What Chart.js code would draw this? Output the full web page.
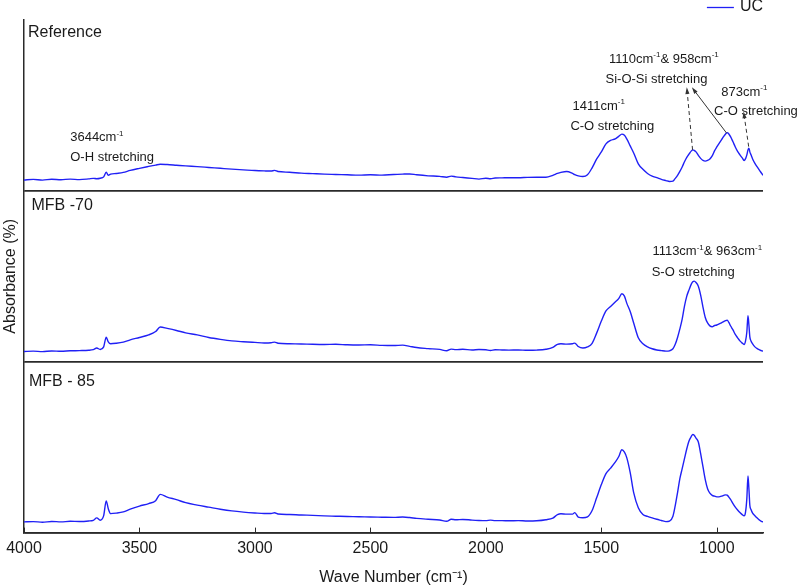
<!DOCTYPE html>
<html>
<head>
<meta charset="utf-8">
<title>FTIR spectra</title>
<script src="https://cdn.jsdelivr.net/npm/chart.js@4.4.1/dist/chart.umd.min.js"></script>
<style>
  html, body { margin: 0; padding: 0; background: #fff; }
  #wrap { width: 797px; height: 587px; position: relative; }
</style>
</head>
<body>
<div id="wrap"><canvas id="ftir"></canvas></div>
<script>
const FONT = '"Liberation Sans", Arial, sans-serif';
const TEXT = '#1a1a1a';
const AXIS = '#2a2a2a';
const LINE_BLUE = '#2020f5';

// wave number grid (cm-1), shared by the three spectra
const wavenumbers = [
  4000, 3960, 3920, 3880, 3840, 3800, 3760, 3720, 3700, 3685,
  3670, 3655, 3644, 3635, 3625, 3600, 3570, 3540, 3500, 3460,
  3430, 3410, 3380, 3340, 3300, 3250, 3200, 3150, 3100, 3050,
  3000, 2960, 2930, 2915, 2900, 2850, 2800, 2750, 2700, 2650,
  2600, 2550, 2500, 2450, 2400, 2360, 2330, 2300, 2250, 2200,
  2170, 2150, 2130, 2100, 2060, 2030, 2000, 1980, 1960, 1930,
  1900, 1860, 1820, 1780, 1740, 1710, 1690, 1675, 1650, 1625,
  1615, 1600, 1580, 1560, 1540, 1520, 1500, 1480, 1460, 1440,
  1425, 1411, 1400, 1390, 1375, 1360, 1340, 1320, 1300, 1280,
  1260, 1240, 1220, 1205, 1190, 1180, 1170, 1160, 1150, 1140,
  1130, 1120, 1110, 1104, 1098, 1090, 1080, 1070, 1060, 1050,
  1040, 1030, 1020, 1010, 1000, 990, 980, 970, 962, 955,
  948, 940, 930, 920, 910, 900, 890, 882, 876, 870,
  865, 861, 857, 852, 845, 835, 825, 815, 805, 800
];

// absorbance, each panel scaled 0..1
const referenceAbs = [
  0.064, 0.067, 0.063, 0.068, 0.065, 0.069, 0.066, 0.070, 0.073, 0.071,
  0.074, 0.082, 0.109, 0.091, 0.098, 0.102, 0.108, 0.120, 0.132, 0.143,
  0.151, 0.156, 0.154, 0.150, 0.146, 0.142, 0.137, 0.132, 0.127, 0.123,
  0.119, 0.117, 0.116, 0.120, 0.113, 0.109, 0.104, 0.101, 0.098, 0.096,
  0.094, 0.092, 0.094, 0.092, 0.096, 0.098, 0.099, 0.094, 0.088, 0.085,
  0.080, 0.086, 0.082, 0.078, 0.073, 0.069, 0.074, 0.071, 0.075, 0.076,
  0.077, 0.077, 0.079, 0.080, 0.080, 0.091, 0.102, 0.108, 0.113, 0.102,
  0.095, 0.088, 0.084, 0.094, 0.135, 0.187, 0.228, 0.275, 0.295, 0.304,
  0.319, 0.332, 0.325, 0.304, 0.263, 0.222, 0.158, 0.126, 0.102, 0.086,
  0.077, 0.067, 0.060, 0.055, 0.057, 0.073, 0.091, 0.114, 0.140, 0.170,
  0.196, 0.216, 0.234, 0.240, 0.237, 0.228, 0.208, 0.190, 0.178, 0.174,
  0.178, 0.187, 0.205, 0.234, 0.257, 0.278, 0.298, 0.319, 0.333, 0.341,
  0.333, 0.316, 0.287, 0.257, 0.231, 0.211, 0.193, 0.178, 0.187, 0.211,
  0.240, 0.250, 0.228, 0.211, 0.187, 0.161, 0.140, 0.120, 0.101, 0.091
];

const mfb70Abs = [
  0.060, 0.062, 0.059, 0.063, 0.061, 0.064, 0.065, 0.067, 0.071, 0.080,
  0.072, 0.087, 0.144, 0.116, 0.105, 0.108, 0.115, 0.128, 0.142, 0.157,
  0.177, 0.203, 0.195, 0.183, 0.169, 0.157, 0.142, 0.131, 0.122, 0.117,
  0.113, 0.110, 0.111, 0.115, 0.108, 0.105, 0.104, 0.102, 0.101, 0.102,
  0.099, 0.098, 0.099, 0.096, 0.095, 0.097, 0.090, 0.083, 0.077, 0.072,
  0.064, 0.074, 0.071, 0.073, 0.069, 0.072, 0.070, 0.066, 0.070, 0.069,
  0.068, 0.069, 0.067, 0.068, 0.073, 0.084, 0.102, 0.105, 0.103, 0.105,
  0.109, 0.089, 0.080, 0.087, 0.108, 0.169, 0.238, 0.297, 0.323, 0.349,
  0.369, 0.398, 0.384, 0.343, 0.294, 0.227, 0.140, 0.105, 0.087, 0.076,
  0.069, 0.065, 0.062, 0.064, 0.076, 0.102, 0.142, 0.192, 0.250, 0.326,
  0.384, 0.422, 0.456, 0.468, 0.472, 0.464, 0.442, 0.390, 0.320, 0.259,
  0.227, 0.210, 0.205, 0.212, 0.215, 0.221, 0.228, 0.235, 0.241, 0.243,
  0.230, 0.209, 0.186, 0.160, 0.140, 0.122, 0.109, 0.101, 0.119, 0.174,
  0.269, 0.215, 0.145, 0.122, 0.105, 0.087, 0.077, 0.070, 0.064, 0.062
];

const mfb85Abs = [
  0.063, 0.064, 0.061, 0.065, 0.063, 0.066, 0.065, 0.068, 0.072, 0.086,
  0.072, 0.099, 0.185, 0.140, 0.111, 0.114, 0.121, 0.137, 0.155, 0.170,
  0.187, 0.224, 0.208, 0.193, 0.175, 0.161, 0.149, 0.137, 0.127, 0.120,
  0.115, 0.112, 0.112, 0.116, 0.109, 0.106, 0.103, 0.101, 0.098, 0.096,
  0.094, 0.093, 0.091, 0.090, 0.089, 0.091, 0.088, 0.083, 0.078, 0.074,
  0.066, 0.078, 0.075, 0.077, 0.073, 0.071, 0.070, 0.073, 0.070, 0.070,
  0.069, 0.070, 0.068, 0.069, 0.075, 0.085, 0.105, 0.110, 0.108, 0.108,
  0.117, 0.091, 0.087, 0.092, 0.129, 0.205, 0.281, 0.345, 0.377, 0.412,
  0.444, 0.485, 0.471, 0.439, 0.351, 0.234, 0.146, 0.106, 0.095, 0.086,
  0.078, 0.071, 0.064, 0.067, 0.096, 0.158, 0.234, 0.316, 0.374, 0.433,
  0.491, 0.538, 0.564, 0.575, 0.570, 0.553, 0.530, 0.462, 0.386, 0.310,
  0.257, 0.231, 0.218, 0.213, 0.209, 0.209, 0.213, 0.218, 0.221, 0.219,
  0.208, 0.193, 0.170, 0.149, 0.132, 0.117, 0.105, 0.098, 0.117, 0.199,
  0.332, 0.257, 0.160, 0.135, 0.114, 0.099, 0.085, 0.073, 0.064, 0.063
];

const xTicks = [4000, 3500, 3000, 2500, 2000, 1500, 1000];
const panelNames = ['Reference', 'MFB -70', 'MFB - 85'];
const panelAxes = ['yRef', 'y70', 'y85'];
const legendLabel = 'UC';

// peak labels, anchored in wave number / panel units; {..} is superscript
const notes = [
  { axis: 'yRef', wn: 3800, v: 0.292, text: '3644cm{-1}' },
  { axis: 'yRef', wn: 3800, v: 0.175, text: 'O-H stretching' },
  { axis: 'yRef', wn: 1625, v: 0.474, text: '1411cm{-1}' },
  { axis: 'yRef', wn: 1634, v: 0.357, text: 'C-O stretching' },
  { axis: 'yRef', wn: 1467, v: 0.749, text: '1110cm{-1}& 958cm{-1}' },
  { axis: 'yRef', wn: 1482, v: 0.632, text: 'Si-O-Si stretching' },
  { axis: 'yRef', wn: 981, v: 0.558, text: '873cm{-1}' },
  { axis: 'yRef', wn: 1012, v: 0.442, text: 'C-O stretching' },
  { axis: 'y70', wn: 1279, v: 0.622, text: '1113cm{-1}& 963cm{-1}' },
  { axis: 'y70', wn: 1282, v: 0.500, text: 'S-O stretching' }
];

const arrows = [
  { axis: 'yRef', from: [1105, 0.240], to: [1130, 0.606], dashed: true },
  { axis: 'yRef', from: [957, 0.337], to: [1108, 0.606], dashed: false },
  { axis: 'yRef', from: [862, 0.259], to: [884, 0.464], dashed: true }
];

// panel name offsets from each panel's top-left corner
const panelLabelOffsets = [[4, 16.5], [7.5, 19], [5, 24.5]];

Chart.defaults.font.family = FONT;
Chart.defaults.color = TEXT;

function drawRich(ctx, str, x, y, size) {
  const parts = str.split(/(\{[^}]*\})/).filter(Boolean);
  let cx = x;
  parts.forEach(p => {
    const sup = p.startsWith('{');
    const t = sup ? p.slice(1, -1) : p;
    ctx.font = (sup ? Math.round(size * 0.62) : size) + 'px ' + FONT;
    ctx.fillText(t, cx, sup ? y - size * 0.42 : y);
    cx += ctx.measureText(t).width;
  });
}

function drawArrow(ctx, x0, y0, x1, y1, dashed) {
  const ang = Math.atan2(y1 - y0, x1 - x0);
  const head = 7;
  ctx.save();
  ctx.strokeStyle = '#333';
  ctx.fillStyle = '#333';
  ctx.lineWidth = 1;
  ctx.setLineDash(dashed ? [4, 3] : []);
  ctx.beginPath();
  ctx.moveTo(x0, y0);
  ctx.lineTo(x1 - Math.cos(ang) * head * 0.8, y1 - Math.sin(ang) * head * 0.8);
  ctx.stroke();
  ctx.setLineDash([]);
  ctx.beginPath();
  ctx.moveTo(x1, y1);
  ctx.lineTo(x1 - head * Math.cos(ang - 0.3), y1 - head * Math.sin(ang - 0.3));
  ctx.lineTo(x1 - head * Math.cos(ang + 0.3), y1 - head * Math.sin(ang + 0.3));
  ctx.closePath();
  ctx.fill();
  ctx.restore();
}

const panelDecor = {
  id: 'panelDecor',
  afterDraw(chart) {
    const { ctx, chartArea } = chart;
    const xs = chart.scales.x;
    ctx.save();

    // inward tick marks on the bottom axis
    ctx.strokeStyle = AXIS;
    ctx.lineWidth = 1;
    xTicks.forEach(v => {
      const px = Math.round(xs.getPixelForValue(v)) + 0.5;
      ctx.beginPath();
      ctx.moveTo(px, xs.top);
      ctx.lineTo(px, xs.top - 5);
      ctx.stroke();
    });

    ctx.fillStyle = TEXT;
    ctx.textAlign = 'left';
    ctx.textBaseline = 'alphabetic';

    // panel names
    ctx.font = '16px ' + FONT;
    panelAxes.forEach((id, i) => {
      const s = chart.scales[id];
      const [dx, dy] = panelLabelOffsets[i];
      ctx.fillText(panelNames[i], chartArea.left + dx, s.top + dy);
    });

    // peak annotations
    notes.forEach(n => {
      const s = chart.scales[n.axis];
      drawRich(ctx, n.text, xs.getPixelForValue(n.wn), s.getPixelForValue(n.v), 13);
    });
    arrows.forEach(a => {
      const s = chart.scales[a.axis];
      drawArrow(ctx,
        xs.getPixelForValue(a.from[0]), s.getPixelForValue(a.from[1]),
        xs.getPixelForValue(a.to[0]), s.getPixelForValue(a.to[1]), a.dashed);
    });

    // legend, top right above the plot
    ctx.font = '16px ' + FONT;
    const tw = ctx.measureText(legendLabel).width;
    const tx = chartArea.right - tw;
    const ly = 7;
    ctx.textBaseline = 'middle';
    ctx.fillText(legendLabel, tx, ly);
    ctx.strokeStyle = LINE_BLUE;
    ctx.lineWidth = 1.3;
    ctx.beginPath();
    ctx.moveTo(tx - 33, ly + 0.5);
    ctx.lineTo(tx - 6, ly + 0.5);
    ctx.stroke();

    ctx.restore();
  }
};

function panelAxis(title) {
  return {
    type: 'linear',
    position: 'left',
    stack: 'panels',
    stackWeight: 1,
    min: 0,
    max: 1,
    afterBuildTicks: s => { s.ticks = [{ value: 0 }]; },
    afterFit: s => { s.width = 23; },
    ticks: { display: false },
    grid: { drawTicks: false, color: AXIS, lineWidth: 1.8 },
    border: { color: AXIS, width: 1.5 },
    title: {
      display: !!title,
      text: title || '',
      font: { size: 16 },
      color: TEXT,
      padding: 0
    }
  };
}

const spectra = [referenceAbs, mfb70Abs, mfb85Abs];

new Chart(document.getElementById('ftir'), {
  type: 'line',
  data: {
    datasets: spectra.map((vals, i) => ({
      label: legendLabel,
      data: wavenumbers.map((w, j) => ({ x: w, y: vals[j] })),
      yAxisID: panelAxes[i],
      borderColor: LINE_BLUE,
      borderWidth: 1.4,
      pointRadius: 0,
      cubicInterpolationMode: 'monotone'
    }))
  },
  options: {
    responsive: true,
    maintainAspectRatio: false,
    animation: false,
    layout: { padding: { top: 20, left: 1, right: 34, bottom: 0 } },
    scales: {
      x: {
        type: 'linear',
        reverse: true,
        min: 800,
        max: 4000,
        afterBuildTicks: s => { s.ticks = xTicks.map(v => ({ value: v })); },
        ticks: {
          callback: v => String(v),
          font: { size: 16 },
          color: TEXT,
          padding: 6,
          maxRotation: 0,
          autoSkip: false
        },
        grid: { display: false, drawTicks: false },
        border: { color: AXIS, width: 1.5 },
        title: {
          display: true,
          text: 'Wave Number (cm⁻¹)',
          font: { size: 16 },
          color: TEXT,
          padding: { top: 4, bottom: 0 }
        }
      },
      // stacked panels: the last one listed ends up on top
      y85: panelAxis(''),
      y70: panelAxis('Absorbance (%)'),
      yRef: panelAxis('')
    },
    plugins: {
      legend: { display: false },
      tooltip: { enabled: false }
    }
  },
  plugins: [panelDecor]
});
</script>
</body>
</html>
